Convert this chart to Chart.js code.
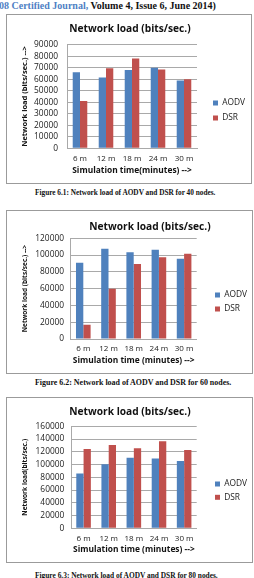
<!DOCTYPE html>
<html>
<head>
<meta charset="utf-8">
<script src="https://cdn.jsdelivr.net/npm/chart.js@4.4.1/dist/chart.umd.min.js"></script>
<style>
  html, body { margin: 0; padding: 0; background: #fff; }
  body { width: 254px; height: 578px; overflow: hidden; position: relative; }
  .box { position: absolute; border: 1px solid #9b9b9b; background: #fff; }
  .box canvas { display: block; }
  .cap { position: absolute; left: 35px; line-height: 10px; white-space: nowrap;
         font-family: 'Liberation Serif', 'Times New Roman', serif; font-weight: bold; color: #111; }
  #hdr { position: absolute; left: -1px; top: 0; line-height: 12px; white-space: nowrap;
         font-family: 'Liberation Serif', 'Times New Roman', serif; font-weight: bold; font-size: 10px; color: #111; }
</style>
</head>
<body>
<div id="hdr"><span style="color:#4f7fc4">08 Certified Journal,</span> Volume 4, Issue 6, June 2014)</div>

<div class="box" style="left:6px;top:14px;width:244px;height:168px"><canvas id="c1" width="244" height="168"></canvas></div>
<div class="cap" style="top:188px;font-size:7.3px">Figure 6.1: Network load of AODV and DSR for 40 nodes.</div>

<div class="box" style="left:6px;top:210px;width:245px;height:162px"><canvas id="c2" width="245" height="162"></canvas></div>
<div class="cap" style="top:378px;font-size:7.95px">Figure 6.2: Network load of AODV and DSR for 60 nodes.</div>

<div class="box" style="left:6px;top:397px;width:245px;height:164px"><canvas id="c3" width="245" height="164"></canvas></div>
<div class="cap" style="top:570.7px;font-size:7.4px">Figure 6.3: Network load of AODV and DSR for 80 nodes.</div>

<script>
// ---- data ----
const categories = ['6 m', '12 m', '18 m', '24 m', '30 m'];
const seriesNames = ['AODV', 'DSR'];
const chartTitle = 'Network load (bits/sec.)';

const aodv40 = [66000, 61500, 68000, 70000, 59000];
const dsr40  = [41000, 69500, 78000, 68500, 60000];
const yTicks40 = [0, 10000, 20000, 30000, 40000, 50000, 60000, 70000, 80000, 90000];

const aodv60 = [91000, 107500, 103500, 106500, 95500];
const dsr60  = [17000, 60000, 89500, 97500, 101500];
const yTicks60 = [0, 20000, 40000, 60000, 80000, 100000, 120000];

const aodv80 = [86000, 100500, 110500, 109500, 105500];
const dsr80  = [124500, 130500, 125500, 136500, 123000];
const yTicks80 = [0, 20000, 40000, 60000, 80000, 100000, 120000, 140000, 160000];

const xTitle40 = 'Simulation time(minutes) -->';
const xTitle60 = 'Simulation time (minutes) -->';
const xTitle80 = 'Simulation time (minutes) -->';
const yTitle40 = 'Network load (bits/sec.) -->';
const yTitle60 = 'Network load (bits/sec.) -->';
const yTitle80 = 'Network load(bits/sec.)';

// ---- styling ----
const FONT = "'Open Sans', 'DejaVu Sans', sans-serif";
const TEXT = '#222222';
const GRID = '#a9a9a9';
const COLORS = ['#4f81bd', '#c0504d'];
const TITLE_SIZE = 10.2, XTITLE_SIZE = 8.4, TICK_SIZE = 8.4, XLABEL_SIZE = 8, LEGEND_SIZE = 8.4, LH = 1.2;

const placer = {
  id: 'placer',
  afterLayout(chart, args, o) {
    const t = chart.titleBlock;
    if (t && o.title) {
      t.left = o.title.x - 150; t.right = o.title.x + 150;
      t.top = o.title.y - t.height / 2; t.bottom = t.top + t.height;
    }
    const l = chart.legend;
    if (l && o.legend) {
      const pad = l.options.labels.padding;
      const ih = Math.max(LEGEND_SIZE, l.options.labels.boxHeight);
      const w = l.width;
      l.left = o.legend.x - pad; l.right = l.left + w;
      l.top = o.legend.y - ih / 2 - pad; l.bottom = l.top + 300;
    }
  }
};

function build(id, s) {
  const titleH = TITLE_SIZE * LH;
  const yTitleLH = s.yTitleSize * LH;
  const yWidth = s.plot.l - (s.yTitleX - yTitleLH / 2);
  const xHeight = s.xTitleDy + XTITLE_SIZE * LH / 2;
  const ticks = s.ticks;
  return new Chart(document.getElementById(id), {
    type: 'bar',
    data: {
      labels: categories,
      datasets: [
        { label: seriesNames[0], data: s.a, backgroundColor: COLORS[0], borderWidth: 0 },
        { label: seriesNames[1], data: s.d, backgroundColor: COLORS[1], borderWidth: 0 }
      ]
    },
    plugins: [placer],
    options: {
      responsive: false,
      animation: false,
      devicePixelRatio: 1,
      datasets: { bar: { categoryPercentage: s.catPct, barPercentage: 1 } },
      layout: { padding: {
        left: s.plot.l - yWidth,
        right: s.w - s.plot.r,
        top: s.plot.t - titleH,
        bottom: s.h - s.plot.b - xHeight
      } },
      plugins: {
        title: { display: true, text: chartTitle, color: '#111',
                 font: { family: FONT, size: TITLE_SIZE, weight: 'bold', lineHeight: LH },
                 padding: { top: 0, bottom: 0 } },
        legend: { display: true, position: 'chartArea', align: 'start',
                  labels: { boxWidth: 5, boxHeight: 5, padding: s.legendPad, color: TEXT,
                            font: { family: FONT, size: LEGEND_SIZE, lineHeight: LH } } },
        tooltip: { enabled: false },
        placer: { title: s.titlePos, legend: s.legendPos }
      },
      scales: {
        x: {
          grid: { display: false, drawTicks: false },
          border: { display: true, color: GRID, width: 1 },
          ticks: { color: TEXT, padding: s.xTickPad, maxRotation: 0, autoSkip: false,
                   font: { family: FONT, size: XLABEL_SIZE, lineHeight: LH } },
          title: { display: true, text: s.xTitle, color: '#111', padding: 0,
                   font: { family: FONT, size: XTITLE_SIZE, weight: 'bold', lineHeight: LH } },
          afterFit: sc => { sc.height = xHeight; }
        },
        y: {
          min: ticks[0], max: ticks[ticks.length - 1],
          afterBuildTicks: sc => { sc.ticks = ticks.map(v => ({ value: v })); },
          grid: { color: GRID, lineWidth: 1, drawTicks: false },
          border: { display: true, color: GRID, width: 1 },
          ticks: { color: TEXT, padding: s.yTickPad, autoSkip: false, callback: v => String(v),
                   font: { family: FONT, size: TICK_SIZE, lineHeight: LH } },
          title: { display: true, text: s.yTitle, color: '#111', padding: 0,
                   font: { family: FONT, size: s.yTitleSize, weight: 'bold', lineHeight: LH } },
          afterFit: sc => { sc.width = yWidth; }
        }
      }
    }
  });
}

build('c1', {
  w: 244, h: 168, a: aodv40, d: dsr40, ticks: yTicks40,
  xTitle: xTitle40, yTitle: yTitle40, yTitleSize: 7.5, yTitleX: 18,
  plot: { l: 60, r: 190, t: 29.7, b: 133.3 },
  yTickPad: 9, xTickPad: 5.9, xTitleDy: 22.7, catPct: 0.56,
  titlePos: { x: 123, y: 14 }, legendPos: { x: 206, y: 88 }, legendPad: 6.6
});

build('c2', {
  w: 245, h: 162, a: aodv60, d: dsr60, ticks: yTicks60,
  xTitle: xTitle60, yTitle: yTitle60, yTitleSize: 6.5, yTitleX: 18,
  plot: { l: 63.7, r: 189.7, t: 27.3, b: 128 },
  yTickPad: 6.7, xTickPad: 5.2, xTitleDy: 21.3, catPct: 0.58,
  titlePos: { x: 143, y: 16 }, legendPos: { x: 208, y: 84 }, legendPad: 5.6
});

build('c3', {
  w: 245, h: 164, a: aodv80, d: dsr80, ticks: yTicks80,
  xTitle: xTitle80, yTitle: yTitle80, yTitleSize: 6.6, yTitleX: 18,
  plot: { l: 64, r: 189.7, t: 28.3, b: 130.3 },
  yTickPad: 6.7, xTickPad: 5.6, xTitleDy: 21.4, catPct: 0.58,
  titlePos: { x: 123, y: 14 }, legendPos: { x: 208, y: 86 }, legendPad: 4.9
});
</script>
</body>
</html>
